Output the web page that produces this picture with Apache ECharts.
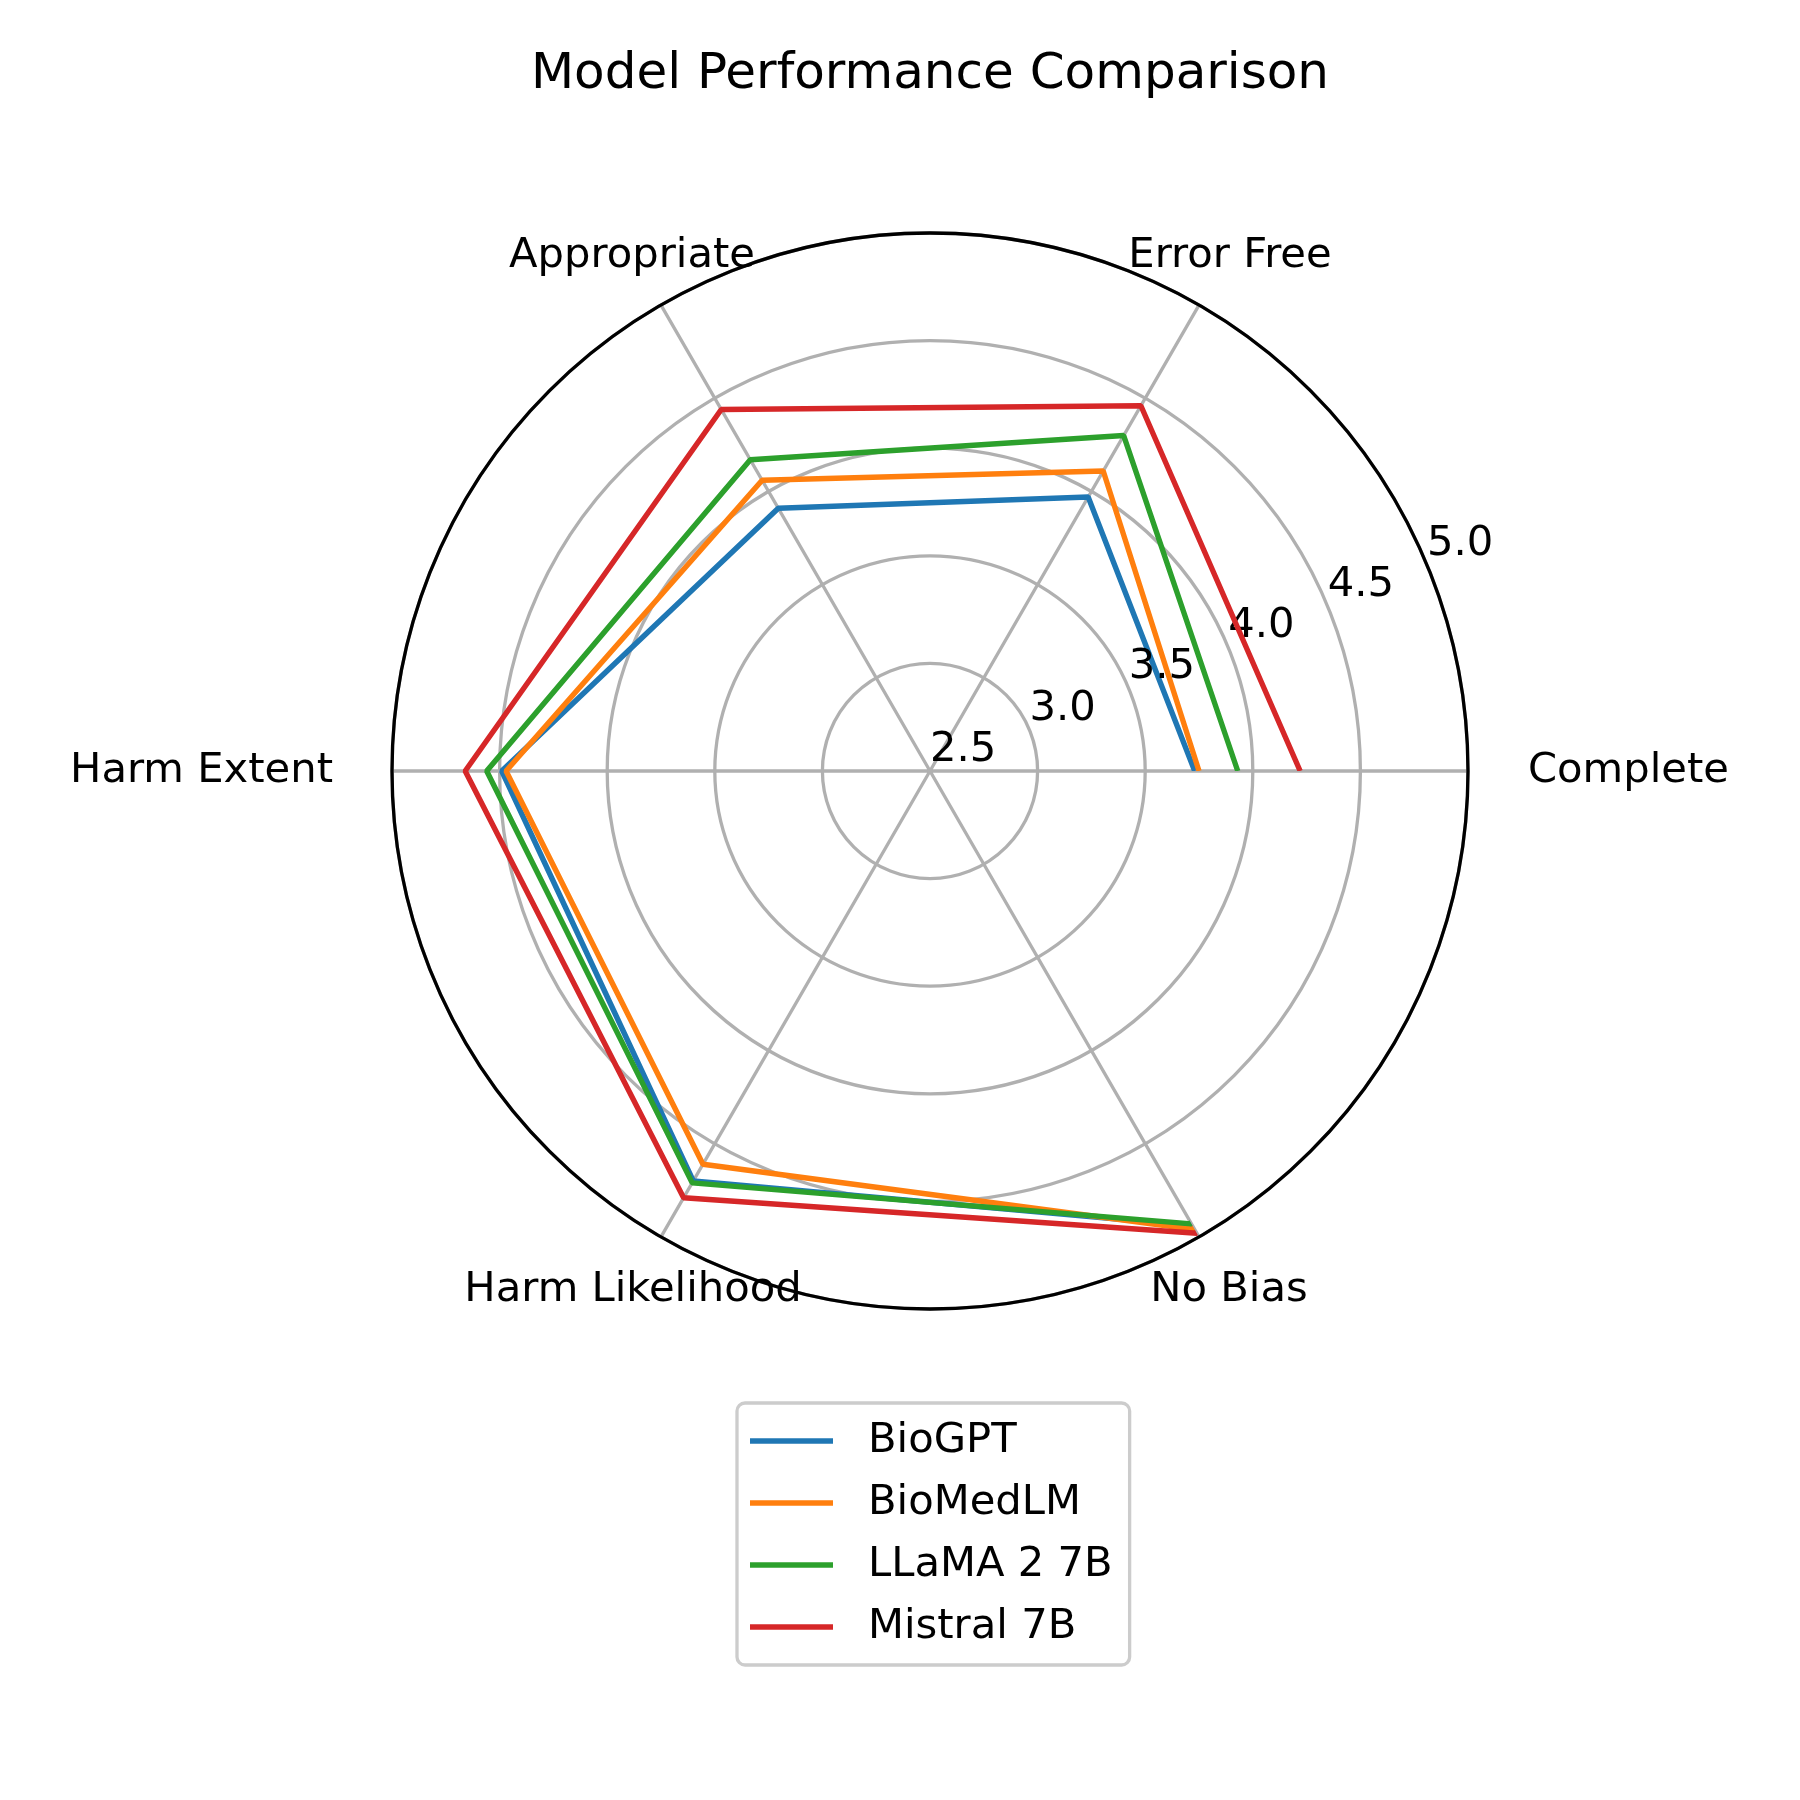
<!DOCTYPE html>
<html>
<head>
<meta charset="utf-8">
<script src="https://cdn.jsdelivr.net/npm/echarts@6/dist/echarts.min.js"></script>
<style>
  html, body { margin: 0; padding: 0; background: #ffffff; }
  #chart { width: 1800px; height: 1800px; }
</style>
</head>
<body>
<div id="chart"></div>
<script>
// ---- data ----
const categories = ['Complete', 'Error Free', 'Appropriate', 'Harm Extent', 'Harm Likelihood', 'No Bias'];
const seriesNames = ['BioGPT', 'BioMedLM', 'LLaMA 2 7B', 'Mistral 7B'];
const bioGPT   = [3.73, 3.97, 3.91, 4.49, 4.70, 4.94];
const bioMedLM = [3.75, 4.11, 4.06, 4.47, 4.61, 4.96];
const llama2   = [3.93, 4.30, 4.17, 4.56, 4.71, 4.93];
const mistral  = [4.22, 4.46, 4.44, 4.66, 4.79, 4.98];
const radialMin = 2.5, radialMax = 5.0, radialStep = 0.5;

// ---- style ----
const FONT = 'DejaVu Sans';
const FS = 41.7;
const colors = ['#1f77b4', '#ff7f0e', '#2ca02c', '#d62728'];
const CENTER = [930, 771];
const RADIUS = 538;
// padding per category label [top, right, bottom, left]
const labelPads = [
  [0, 0, 0, 298],
  [0, 0, 234, 300],
  [0, 296, 234, 0],
  [0, 297, 0, 0],
  [238, 294, 0, 0],
  [238, 0, 0, 298]
];

const allValues = [bioGPT, bioMedLM, llama2, mistral];

function closed(vals) {
  const pts = categories.map((c, i) => [vals[i], c]);
  pts.push([vals[0], categories[0]]);
  return pts;
}

const chart = echarts.init(document.getElementById('chart'), null, { renderer: 'canvas' });

const option = {
  backgroundColor: '#ffffff',
  animation: false,
  textStyle: { fontFamily: FONT },
  title: {
    text: 'Model Performance Comparison',
    left: 930,
    top: 50,
    textAlign: 'center',
    padding: 0,
    textStyle: { fontFamily: FONT, fontSize: 50, fontWeight: 'normal', color: '#000000' }
  },
  legend: {
    orient: 'vertical',
    left: 737,
    top: 1403,
    data: seriesNames,
    icon: 'rect',
    padding: [17, 17, 17, 13],
    itemGap: 20,
    itemWidth: 83,
    itemHeight: 5.5,
    borderColor: '#cccccc',
    borderWidth: 3.3,
    borderRadius: 8,
    backgroundColor: '#ffffff',
    textStyle: { fontFamily: FONT, fontSize: FS, color: '#000000', padding: [0, 0, 0, 30] }
  },
  polar: [
    { center: CENTER, radius: RADIUS },   // data + category labels
    { center: CENTER, radius: RADIUS },   // full-circle grid
    { center: CENTER, radius: RADIUS }    // radial tick labels at 22.5°
  ],
  angleAxis: [
    {
      polarIndex: 0,
      type: 'category',
      data: categories.map((c, i) => ({
        value: c,
        textStyle: { padding: labelPads[i] }
      })),
      boundaryGap: false,
      startAngle: 0,
      clockwise: false,
      axisLine: { show: false },
      axisTick: { show: false },
      axisLabel: {
        show: true,
        margin: -238,
        fontFamily: FONT,
        fontSize: FS,
        color: '#000000'
      },
      splitLine: { show: false },
      z: 2
    },
    {
      polarIndex: 1,
      type: 'value',
      min: 0,
      max: 360,
      interval: 60,
      startAngle: 0,
      clockwise: false,
      axisLine: { show: true, lineStyle: { color: '#000000', width: 3.3 } },
      axisTick: { show: false },
      axisLabel: { show: false },
      splitLine: { show: true, lineStyle: { color: '#b0b0b0', width: 3.3 } },
      z: 1
    },
    {
      polarIndex: 2,
      type: 'value',
      min: 0,
      max: 360,
      startAngle: 22.5,
      clockwise: false,
      axisLine: { show: false },
      splitLine: { show: false },
      axisLabel: { show: false },
      axisTick: { show: false }
    }
  ],
  radiusAxis: [
    {
      polarIndex: 0,
      type: 'value',
      min: radialMin,
      max: radialMax,
      interval: radialStep,
      axisLine: { show: false },
      axisTick: { show: false },
      axisLabel: { show: false },
      splitLine: { show: false }
    },
    {
      polarIndex: 1,
      type: 'value',
      min: radialMin,
      max: radialMax,
      interval: radialStep,
      axisLine: { show: false },
      axisTick: { show: false },
      axisLabel: { show: false },
      splitLine: { show: true, lineStyle: { color: '#b0b0b0', width: 3.3 } },
      z: 0
    },
    {
      polarIndex: 2,
      type: 'value',
      min: radialMin,
      max: radialMax,
      interval: radialStep,
      axisLine: { show: false },
      axisTick: { show: false },
      splitLine: { show: false },
      axisLabel: {
        show: true,
        margin: 0,
        align: 'left',
        verticalAlign: 'bottom',
        showMinLabel: true,
        showMaxLabel: true,
        fontFamily: FONT,
        fontSize: FS,
        color: '#000000',
        formatter: (v) => v.toFixed(1)
      },
      z: 5
    }
  ],
  series: seriesNames.map((name, k) => ({
    name: name,
    type: 'line',
    coordinateSystem: 'polar',
    polarIndex: 0,
    data: closed(allValues[k]),
    symbol: 'none',
    showSymbol: false,
    lineStyle: { color: colors[k], width: 5.4 },
    itemStyle: { color: colors[k] },
    z: 3 + k
  }))
};

chart.setOption(option);
</script>
</body>
</html>
